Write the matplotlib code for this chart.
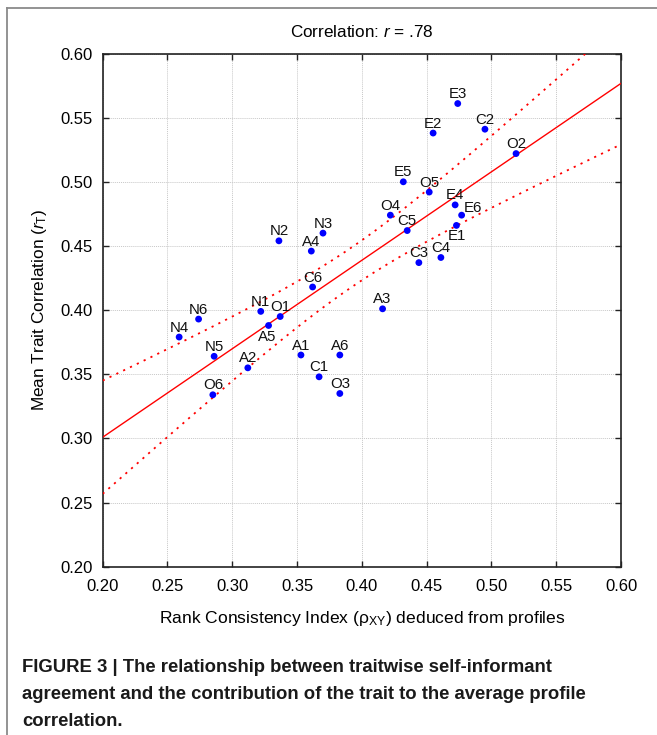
import numpy as np
import matplotlib
matplotlib.use("Agg")
import matplotlib.pyplot as plt
from matplotlib.lines import Line2D

# ---- data ----
labels = ["N1", "N2", "N3", "N4", "N5", "N6",
          "E1", "E2", "E3", "E4", "E5", "E6",
          "O1", "O2", "O3", "O4", "O5", "O6",
          "A1", "A2", "A3", "A4", "A5", "A6",
          "C1", "C2", "C3", "C4", "C5", "C6"]
rank_consistency = [0.322, 0.336, 0.370, 0.259, 0.286, 0.274,
                    0.473, 0.455, 0.474, 0.472, 0.432, 0.477,
                    0.337, 0.519, 0.383, 0.422, 0.452, 0.285,
                    0.353, 0.312, 0.416, 0.361, 0.328, 0.383,
                    0.367, 0.495, 0.444, 0.461, 0.435, 0.362]
mean_trait_corr = [0.399, 0.454, 0.460, 0.379, 0.364, 0.393,
                   0.466, 0.538, 0.561, 0.482, 0.500, 0.474,
                   0.395, 0.522, 0.335, 0.474, 0.492, 0.334,
                   0.365, 0.355, 0.401, 0.446, 0.388, 0.365,
                   0.348, 0.541, 0.437, 0.441, 0.462, 0.418]
x_ticks = [0.20, 0.25, 0.30, 0.35, 0.40, 0.45, 0.50, 0.55, 0.60]
y_ticks = [0.20, 0.25, 0.30, 0.35, 0.40, 0.45, 0.50, 0.55, 0.60]
title_text = "Correlation: $r$ = .78"
caption = ("FIGURE 3 | The relationship between traitwise self-informant\n"
           "agreement and the contribution of the trait to the average profile\n"
           "correlation.")

# label offsets (points) for non-default label placement
label_offsets = {"A5": (-1.2, -8.5), "E1": (0, -7.5), "E6": (8, 4.8)}
default_offset = (0, 6.8)

plt.rcParams["font.family"] = ["Liberation Sans", "DejaVu Sans"]
plt.rcParams["mathtext.fontset"] = "custom"
plt.rcParams["mathtext.rm"] = "Liberation Sans"
plt.rcParams["mathtext.it"] = "Liberation Sans:italic"
plt.rcParams["mathtext.bf"] = "Liberation Sans:bold"

W, H = 657, 735
fig = plt.figure(figsize=(W / 100, H / 100), dpi=100)
ax = fig.add_axes([102.7 / W, 1 - 566.7 / H, (621 - 102.7) / W, (566.7 - 53.5) / H])

x = np.array(rank_consistency)
y = np.array(mean_trait_corr)
n = len(x)
slope, intercept = np.polyfit(x, y, 1)
xs = np.linspace(0.2, 0.6, 200)
fit = intercept + slope * xs
resid = y - (intercept + slope * x)
s = np.sqrt(np.sum(resid ** 2) / (n - 2))
sxx = np.sum((x - x.mean()) ** 2)
t = 2.048
half = t * s * np.sqrt(1.0 / n + (xs - x.mean()) ** 2 / sxx)

ax.grid(True, color="#c8c8c8", linestyle=(0, (1, 1)), linewidth=0.7)
ax.set_axisbelow(True)
ax.plot(xs, fit, color="#ff0000", linewidth=1.0, zorder=3)
ax.plot(xs, fit + half, color="#ff0000", linewidth=1.3, linestyle=(0, (1.2, 3)), zorder=3)
ax.plot(xs, fit - half, color="#ff0000", linewidth=1.3, linestyle=(0, (1.2, 3)), zorder=3)
ax.scatter(x, y, s=24, color="#0000ff", zorder=4, edgecolors="none")

for lab, xi, yi in zip(labels, x, y):
    off = label_offsets.get(lab, default_offset)
    ax.annotate(lab, (xi, yi), xytext=off, textcoords="offset points",
                ha="center", va="center", fontsize=10.8, color="#111111", zorder=5)

ax.set_xlim(0.2, 0.6)
ax.set_ylim(0.2, 0.6)
ax.set_xticks(x_ticks)
ax.set_yticks(y_ticks)
ax.set_xticklabels([f"{v:.2f}" for v in x_ticks])
ax.set_yticklabels([f"{v:.2f}" for v in y_ticks])
ax.tick_params(direction="in", length=4, width=1, labelsize=12, top=True, right=True,
               color="#222222")
ax.tick_params(axis="x", pad=9)
ax.tick_params(axis="y", pad=7)
for sp in ax.spines.values():
    sp.set_color("#222222")
    sp.set_linewidth(1.2)

ax.set_title(title_text, fontsize=12.3, pad=12)
ax.set_xlabel("Rank Consistency Index (ρ$_\\mathrm{XY}$) deduced from profiles", fontsize=12.6, labelpad=11)
ax.set_ylabel("Mean Trait Correlation ($r_\\mathrm{T}$)", fontsize=12.4, labelpad=8)

# outer frame lines (top and left)
fig.add_artist(Line2D([7 / W, 1.0], [1 - 8 / H, 1 - 8 / H], color="#8a8a8a", linewidth=1.3,
                      transform=fig.transFigure))
fig.add_artist(Line2D([7 / W, 7 / W], [1 - 8 / H, 0.0], color="#8a8a8a", linewidth=1.3,
                      transform=fig.transFigure))

fig.text(22 / W, 1 - 659 / H, caption, ha="left", va="top", fontsize=13.3, fontweight="bold",
         family=["Liberation Sans Narrow", "Liberation Sans", "DejaVu Sans"], linespacing=1.75,
         color="#1a1a1a")

fig.savefig("out.png", dpi=100)
